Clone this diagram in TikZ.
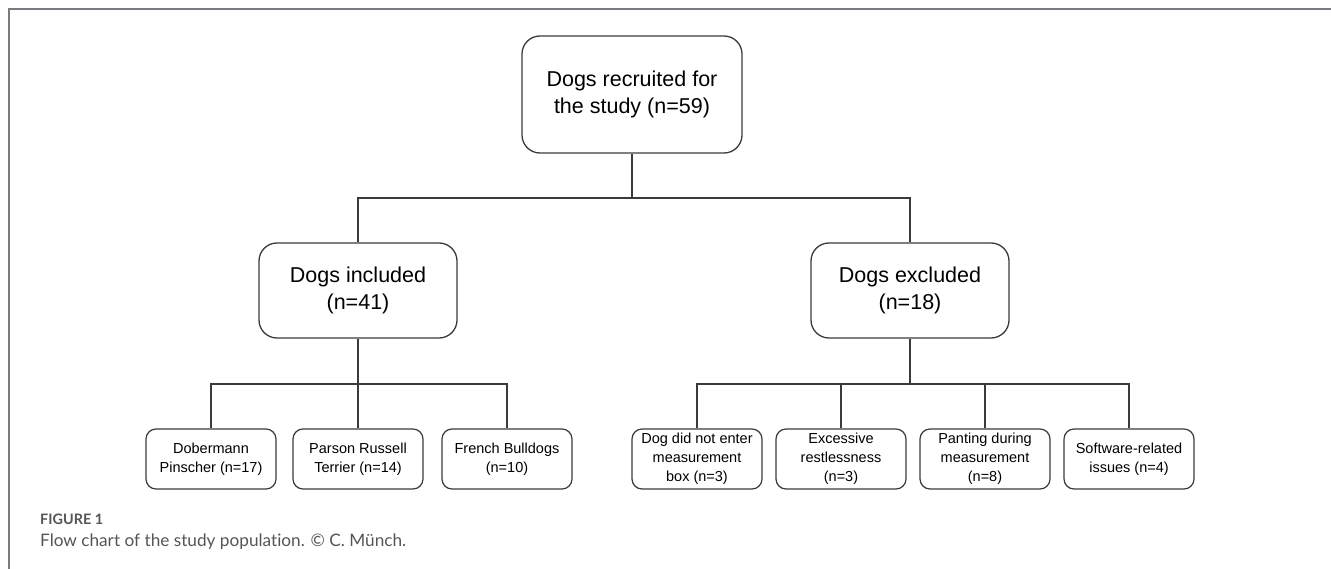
\documentclass[tikz,border=0pt]{standalone}
\usepackage{fontspec}
\setmainfont{Liberation Sans}
\newfontfamily\capfont[Ligatures=NoCommon]{Lato}
\usepackage{xcolor}
\definecolor{framegray}{HTML}{7a7a80}
\definecolor{linegray}{HTML}{3a3a3a}
\definecolor{capgray}{HTML}{555555}
\def\splity{198}
\def\lowsplity{384}
\tikzset{
  bigbox/.style={draw=linegray, line width=1.3pt, rounded corners=18pt, align=center,
    font=\fontsize{21.5}{27.5}\selectfont, inner sep=0pt},
  smallbox/.style={draw=linegray, line width=1.2pt, rounded corners=10pt, align=center,
    minimum width=130pt, minimum height=60pt, font=\fontsize{14.5}{19}\selectfont, inner sep=0pt},
  link/.style={linegray, line width=1.2pt}
}
\begin{document}
\begin{tikzpicture}[x=1pt, y=-1pt]
    \useasboundingbox (0,0) rectangle (1331,569);
    \draw[framegray, line width=2pt] (9,569) -- (9,9) -- (1331,9);

    \node[bigbox, minimum width=220pt, minimum height=117pt] (recruited) at (632,94.5)
      {Dogs recruited for\\the study (n=59)};
    \node[bigbox, minimum width=198pt, minimum height=95pt] (included) at (358,290.5)
      {Dogs included\\(n=41)};
    \node[bigbox, minimum width=198pt, minimum height=95pt] (excluded) at (910,290.5)
      {Dogs excluded\\(n=18)};

    \node[smallbox] (dobermann) at (211,459) {Dobermann\\Pinscher (n=17)};
    \node[smallbox] (parson) at (358,459) {Parson Russell\\Terrier (n=14)};
    \node[smallbox] (french) at (507,459) {French Bulldogs\\(n=10)};

    \node[smallbox] (notenter) at (697,459) {Dog did not enter\\measurement\\box (n=3)};
    \node[smallbox] (restless) at (841,459) {Excessive\\restlessness\\(n=3)};
    \node[smallbox] (panting) at (985,459) {Panting during\\measurement\\(n=8)};
    \node[smallbox] (software) at (1129,459) {Software-related\\issues (n=4)};

    \coordinate (split) at (632,\splity);
    \coordinate (incsplit) at (358,\lowsplity);
    \coordinate (excsplit) at (910,\lowsplity);

    \draw[link] (recruited.south) -- (split);
    \draw[link] (included.north) -- (included.north |- split) -- (excluded.north |- split) -- (excluded.north);

    \draw[link] (included.south) -- (parson.north);
    \draw[link] (dobermann.north) -- (dobermann.north |- incsplit) -- (french.north |- incsplit) -- (french.north);

    \draw[link] (excluded.south) -- (excsplit);
    \draw[link] (notenter.north) -- (notenter.north |- excsplit) -- (software.north |- excsplit) -- (software.north);
    \draw[link] (restless.north) -- (restless.north |- excsplit);
    \draw[link] (panting.north) -- (panting.north |- excsplit);

    \node[anchor=west, inner sep=0pt, text=capgray, font=\capfont\bfseries\fontsize{14.4}{17}\selectfont] (figlabel) at (40,519) {FIGURE 1};
    \node[anchor=west, inner sep=0pt, text=capgray, font=\capfont\fontsize{17.2}{20}\selectfont] (caption) at (40,542) {Flow chart of the study population. © C. Münch.};
\end{tikzpicture}
\end{document}
